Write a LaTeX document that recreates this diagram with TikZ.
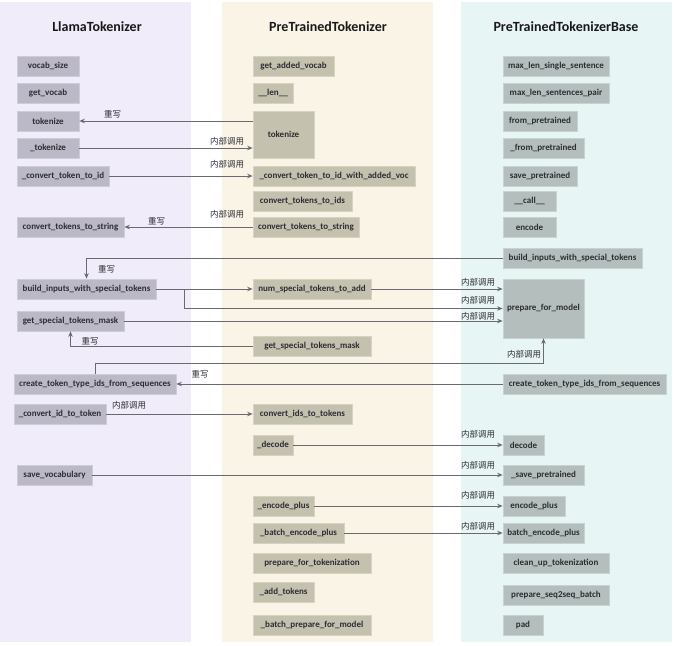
\documentclass[tikz,border=0pt]{standalone}
\usepackage{fontspec}
\setmainfont{Carlito}
\newfontfamily\cjk{Noto Sans CJK SC}
\usetikzlibrary{arrows.meta}
\definecolor{bgL}{RGB}{240,236,249}
\definecolor{bgM}{RGB}{250,244,231}
\definecolor{bgR}{RGB}{232,245,245}
\definecolor{boxL}{RGB}{187,185,199}
\definecolor{boxLb}{RGB}{206,204,217}
\definecolor{boxM}{RGB}{197,193,175}
\definecolor{boxMb}{RGB}{215,211,196}
\definecolor{boxR}{RGB}{180,191,189}
\definecolor{boxRb}{RGB}{200,210,208}
\definecolor{txt}{RGB}{45,45,52}
\definecolor{lin}{RGB}{105,105,110}
\tikzset{
  box/.style={inner sep=0.5pt, minimum height=20pt, text=txt, line width=0.7pt,
    font=\bfseries\fontsize{9}{10}\selectfont},
  lbox/.style={box, fill=boxL, draw=boxLb},
  mbox/.style={box, fill=boxM, draw=boxMb},
  rbox/.style={box, fill=boxR, draw=boxRb},
  title/.style={font=\bfseries\fontsize{14}{16}\selectfont, text=black!90},
  lab/.style={font=\cjk\fontsize{8.5}{9}\selectfont, text=txt, inner sep=0pt},
  conn/.style={draw=lin, line width=1pt, -{Stealth[length=5.5pt,width=4.5pt]}}
}
\begin{document}
\begin{tikzpicture}[x=1pt,y=-1pt]
\useasboundingbox (0,0) rectangle (674,645);
% column backgrounds
\fill[bgL] (0,2) rectangle (191,642);
\fill[bgM] (222,2) rectangle (433,642);
\fill[bgR] (461,2) rectangle (672,642);
% titles
\node[title] (tL) at (97,27) {LlamaTokenizer};
\node[title] (tM) at (328,27) {PreTrainedTokenizer};
\node[title] (tR) at (566,27) {PreTrainedTokenizerBase};
% left column
\node[lbox,minimum width=62pt] (lvocab) at (48,66) {vocab\_size};
\node[lbox,minimum width=62pt] (lgetvocab) at (48,93) {get\_vocab};
\node[lbox,minimum width=62pt] (ltok) at (48,121) {tokenize};
\node[lbox,minimum width=62pt] (lutok) at (48,148) {\_tokenize};
\node[lbox,minimum width=92pt] (lctti) at (63,176) {\_convert\_token\_to\_id};
\node[lbox,minimum width=107pt] (lctts) at (70.5,227) {convert\_tokens\_to\_string};
\node[lbox,minimum width=139pt] (lbuild) at (86.5,289) {build\_inputs\_with\_special\_tokens};
\node[lbox,minimum width=107pt] (lgstm) at (70.5,321) {get\_special\_tokens\_mask};
\node[lbox,minimum width=162pt] (lcreate) at (95,384) {create\_token\_type\_ids\_from\_sequences};
\node[lbox,minimum width=92pt] (lcitt) at (60,414) {\_convert\_id\_to\_token};
\node[lbox,minimum width=75pt] (lsave) at (54.5,475) {save\_vocabulary};
% middle column
\node[mbox,minimum width=81pt] (mgav) at (293.5,66) {get\_added\_vocab};
\node[mbox,minimum width=40pt] (mlen) at (273,93) {\_\_len\_\_};
\node[mbox,minimum width=61pt,minimum height=47pt] (mtok) at (283.5,134.5) {tokenize};
\node[mbox,minimum width=162pt] (mcttiwav) at (334,176) {\_convert\_token\_to\_id\_with\_added\_voc};
\node[mbox,minimum width=99pt] (mctti) at (302.5,201) {convert\_tokens\_to\_ids};
\node[mbox,minimum width=106pt] (mctts) at (306,227) {convert\_tokens\_to\_string};
\node[mbox,minimum width=118pt] (mnum) at (312,289) {num\_special\_tokens\_to\_add};
\node[mbox,minimum width=118pt] (mgstm) at (312,346) {get\_special\_tokens\_mask};
\node[mbox,minimum width=99pt] (mcitt) at (302.5,414) {convert\_ids\_to\_tokens};
\node[mbox,minimum width=40pt] (mdecode) at (273,445) {\_decode};
\node[mbox,minimum width=61pt] (menc) at (283.5,506) {\_encode\_plus};
\node[mbox,minimum width=91pt] (mbenc) at (298.5,533) {\_batch\_encode\_plus};
\node[mbox,minimum width=118pt] (mprep) at (312,563) {prepare\_for\_tokenization};
\node[mbox,minimum width=61pt] (madd) at (283.5,592) {\_add\_tokens};
\node[mbox,minimum width=118pt] (mbprep) at (312,625) {\_batch\_prepare\_for\_model};
% right column
\node[rbox,minimum width=106pt] (rmaxa) at (556,66) {max\_len\_single\_sentence};
\node[rbox,minimum width=106pt] (rmaxb) at (556,93) {max\_len\_sentences\_pair};
\node[rbox,minimum width=74pt] (rfrom) at (540,121) {from\_pretrained};
\node[rbox,minimum width=81pt] (rufrom) at (543.5,148) {\_from\_pretrained};
\node[rbox,minimum width=74pt] (rsave) at (540,176) {save\_pretrained};
\node[rbox,minimum width=53pt] (rcall) at (529.5,201) {\_\_call\_\_};
\node[rbox,minimum width=53pt] (rencode) at (529.5,227) {encode};
\node[rbox,minimum width=139pt] (rbuild) at (572.5,258) {build\_inputs\_with\_special\_tokens};
\node[rbox,minimum width=81pt,minimum height=59pt] (rprep) at (543.5,308.5) {prepare\_for\_model};
\node[rbox,minimum width=163pt] (rcreate) at (584.5,384) {create\_token\_type\_ids\_from\_sequences};
\node[rbox,minimum width=41pt] (rdecode) at (523.5,445) {decode};
\node[rbox,minimum width=81pt] (rusave) at (543.5,475) {\_save\_pretrained};
\node[rbox,minimum width=62pt] (rencplus) at (534,506) {encode\_plus};
\node[rbox,minimum width=81pt] (rbenc) at (543.5,533) {batch\_encode\_plus};
\node[rbox,minimum width=106pt] (rclean) at (556,563) {clean\_up\_tokenization};
\node[rbox,minimum width=106pt] (rseq) at (556,595) {prepare\_seq2seq\_batch};
\node[rbox,minimum width=40pt] (rpad) at (523,625) {pad};
% connectors
\draw[conn] (ltok.east -| mtok.west) -- (ltok.east);
\draw[conn] (lutok.east) -- (lutok.east -| mtok.west);
\draw[conn] (lctti.east) -- (mcttiwav.west);
\draw[conn] (mctts.west) -- (lctts.east);
\draw[conn] (rbuild.west) -| (lbuild.north);
\draw[conn] (lbuild.east) -- (mnum.west);
\draw[conn] (mnum.east) -- (mnum.east -| rprep.west);
\draw[conn] (lbuild.east) -- ++(28,0) |- (rprep.west);
\draw[conn] (lgstm.east) -- (lgstm.east -| rprep.west);
\draw[conn] (mgstm.west) -| (lgstm.south);
\draw[conn] (lcreate.north) -- ++(0,-10) -| (rprep.south);
\draw[conn] (rcreate.west) -- (lcreate.east);
\draw[conn] (lcitt.east) -- (mcitt.west);
\draw[conn] (mdecode.east) -- (rdecode.west);
\draw[conn] (lsave.east) -- (rusave.west);
\draw[conn] (menc.east) -- (rencplus.west);
\draw[conn] (mbenc.east) -- (rbenc.west);
% labels
\node[lab] (a1) at (112.5,114) {重写};
\node[lab] (a2) at (227,141) {内部调用};
\node[lab] (a3) at (227,164) {内部调用};
\node[lab] (a4) at (227,214) {内部调用};
\node[lab] (a5) at (156.5,221) {重写};
\node[lab] (a6) at (106.5,269) {重写};
\node[lab] (a7) at (478,282) {内部调用};
\node[lab] (a8) at (478,300) {内部调用};
\node[lab] (a9) at (478,316) {内部调用};
\node[lab] (a10) at (90,341) {重写};
\node[lab] (a11) at (524,354) {内部调用};
\node[lab] (a12) at (200,374) {重写};
\node[lab] (a13) at (129,405) {内部调用};
\node[lab] (a14) at (478,434) {内部调用};
\node[lab] (a15) at (478,465) {内部调用};
\node[lab] (a16) at (478,495) {内部调用};
\node[lab] (a17) at (478,526) {内部调用};
\end{tikzpicture}
\end{document}
